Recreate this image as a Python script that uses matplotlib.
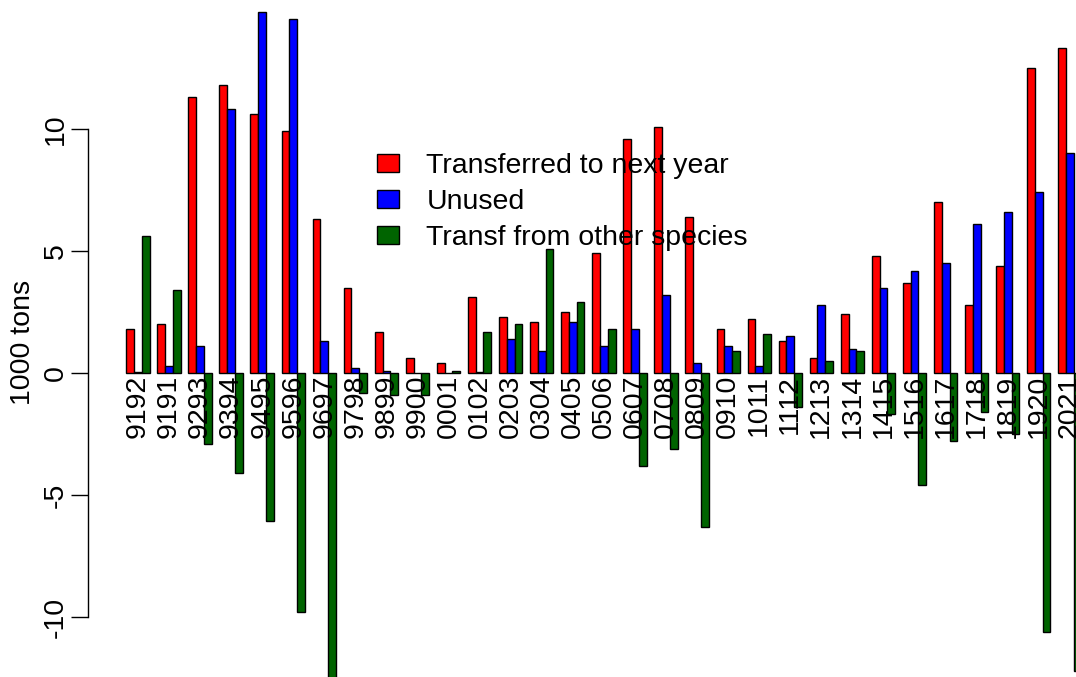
import numpy as np
import matplotlib
matplotlib.use("Agg")
import matplotlib.pyplot as plt
from matplotlib.transforms import offset_copy

plt.rcParams['font.family'] = ['Liberation Sans', 'DejaVu Sans']

# Quota seasons (yyYY)
seasons = ["9192", "9191", "9293", "9394", "9495", "9596", "9697", "9798",
           "9899", "9900", "0001", "0102", "0203", "0304", "0405", "0506",
           "0607", "0708", "0809", "0910", "1011", "1112", "1213", "1314",
           "1415", "1516", "1617", "1718", "1819", "1920", "2021"]

# 1000 tons
transferred_next_year = [1.8, 2.0, 11.3, 11.8, 10.6, 9.9, 6.3, 3.5,
                         1.7, 0.6, 0.4, 3.1, 2.3, 2.1, 2.5, 4.9,
                         9.6, 10.1, 6.4, 1.8, 2.2, 1.3, 0.6, 2.4,
                         4.8, 3.7, 7.0, 2.8, 4.4, 12.5, 13.3]
unused = [0.05, 0.3, 1.1, 10.8, 14.8, 14.5, 1.3, 0.2,
          0.1, 0.0, 0.0, 0.05, 1.4, 0.9, 2.1, 1.1,
          1.8, 3.2, 0.4, 1.1, 0.3, 1.5, 2.8, 1.0,
          3.5, 4.2, 4.5, 6.1, 6.6, 7.4, 9.0]
transf_other_species = [5.6, 3.4, -2.9, -4.1, -6.05, -9.8, -12.5, -0.8,
                        -0.9, -0.9, 0.1, 1.7, 2.0, 5.1, 2.9, 1.8,
                        -3.8, -3.1, -6.3, 0.9, 1.6, -1.4, 0.5, 0.9,
                        -1.7, -4.6, -2.8, -1.6, -2.5, -10.6, -12.2]

series = [transferred_next_year, unused, transf_other_species]
series_names = ["Transferred to next year", "Unused", "Transf from other species"]
series_colors = ["#FF0000", "#0000FF", "#006400"]
yticks = [-10, -5, 0, 5, 10]

W, H, DPI = 1076, 677, 100
FS = 20.5

fig = plt.figure(figsize=(W / DPI, H / DPI), dpi=DPI)

# grouped bar layout: three bars per group, one empty slot between groups
n_groups = len(seasons)
n_series = len(series)
slot = n_series + 1
lefts = np.arange(n_groups) * slot + 1.0
xmin, xmax = lefts[0], lefts[-1] + n_series
xpad = 0.04 * (xmax - xmin)
xlim = (xmin - xpad, xmax + xpad)

px_per_unit_x = 7.767
ax_left_px = 88.0
ax_width_px = (xlim[1] - xlim[0]) * px_per_unit_x
ax = fig.add_axes([ax_left_px / W, 0.0, ax_width_px / W, 1.0])

zero_px, px_per_unit_y = 373.0, 24.4
ax.set_xlim(*xlim)
ax.set_ylim((zero_px - H) / px_per_unit_y, zero_px / px_per_unit_y)

handles = []
for i, (vals, name, col) in enumerate(zip(series, series_names, series_colors)):
    bc = ax.bar(lefts + i, vals, width=1.0, align='edge', color=col,
                edgecolor='black', linewidth=1.0, label=name, zorder=2)
    handles.append(bc)

# season labels hanging below the zero line
lab_tr = offset_copy(ax.transData, fig=fig, x=0, y=-2, units='dots')
for g, lab in enumerate(seasons):
    ax.text(lefts[g] + n_series / 2.0, 0, lab, rotation=90, ha='center', va='top',
            fontsize=FS, transform=lab_tr, zorder=3, clip_on=False)

for side in ['top', 'right', 'bottom']:
    ax.spines[side].set_visible(False)
ax.spines['left'].set_bounds(yticks[0], yticks[-1])
ax.spines['left'].set_linewidth(1.0)
ax.set_xticks([])
ax.set_yticks(yticks)
ax.set_yticklabels([str(t) for t in yticks])
ax.tick_params(axis='y', length=12.2, width=1.0, pad=1.5, labelsize=FS)
for lbl in ax.get_yticklabels():
    lbl.set_rotation(90)
    lbl.set_va('center')
    lbl.set_ha('right')

fig.text(23 / W, 1 - 342.5 / H, "1000 tons", rotation=90, ha='center', va='center',
         fontsize=FS)

fig.legend(handles=handles, labels=series_names, loc='upper left',
           bbox_to_anchor=(377 / W, 1 - 153 / H), frameon=False, fontsize=FS,
           borderpad=0, borderaxespad=0, handlelength=0.77, handleheight=0.63,
           handletextpad=0.96, labelspacing=0.35)

fig.savefig("out.png", dpi=DPI)
